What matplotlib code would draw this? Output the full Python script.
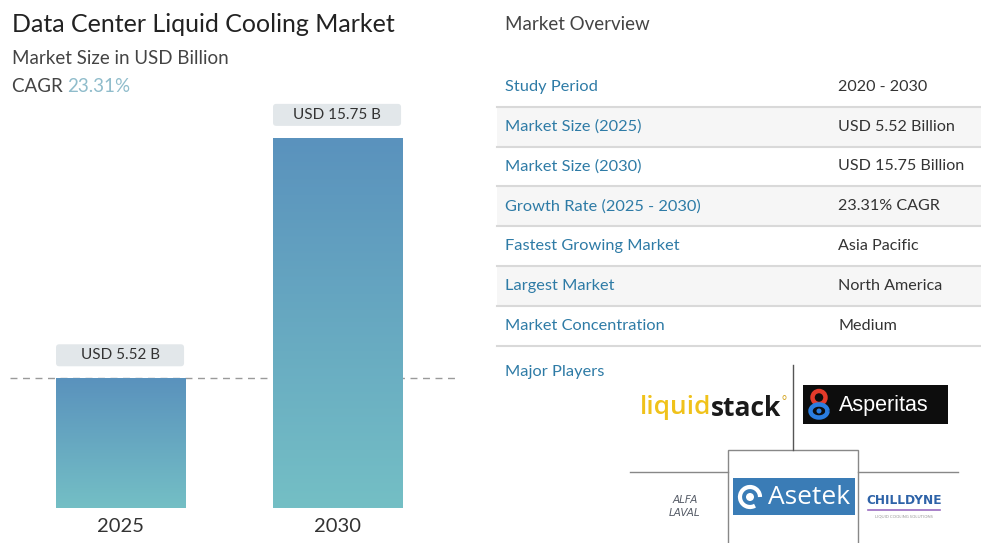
import numpy as np
import matplotlib
matplotlib.use("Agg")
import matplotlib.pyplot as plt
from matplotlib.colors import LinearSegmentedColormap
from matplotlib.patches import Rectangle, FancyBboxPatch, Arc, Circle

# ---------------- data ----------------
years = ["2025", "2030"]
values = [5.52, 15.75]
bar_labels = ["USD 5.52 B", "USD 15.75 B"]
title = "Data Center Liquid Cooling Market"
subtitle = "Market Size in USD Billion"
cagr_text = "23.31%"
row_labels = ["Study Period", "Market Size (2025)", "Market Size (2030)",
              "Growth Rate (2025 - 2030)", "Fastest Growing Market",
              "Largest Market", "Market Concentration"]
row_values = ["2020 - 2030", "USD 5.52 Billion", "USD 15.75 Billion",
              "23.31% CAGR", "Asia Pacific", "North America", "Medium"]

plt.rcParams['font.family'] = ['Lato', 'DejaVu Sans']

W, H = 981, 543
fig = plt.figure(figsize=(W / 100, H / 100), dpi=100)
fig.patch.set_facecolor("white")

# ---------------- bar chart ----------------
ax_left, ax_right = 0, 460
ax_bottom, ax_top = 508, 80
ax = fig.add_axes([ax_left / W, 1 - ax_bottom / H, (ax_right - ax_left) / W,
                   (ax_bottom - ax_top) / H])
px_per_y = 23.5
ymax = (ax_bottom - ax_top) / px_per_y
px_per_x = 217.0
xlo = -121 / px_per_x
xhi = 1 + (460 - 338) / px_per_x
bw = 130 / px_per_x

cmap = LinearSegmentedColormap.from_list("g", ["#5a92bd", "#74bfc5"])
grad = np.linspace(0, 1, 256).reshape(-1, 1)
xs = np.arange(len(values))
for x, v, lab in zip(xs, values, bar_labels):
    rect = Rectangle((x - bw / 2, 0), bw, v, facecolor="none", edgecolor="none", zorder=3)
    ax.add_patch(rect)
    im = ax.imshow(grad, cmap=cmap, aspect="auto", extent=[x - bw / 2, x + bw / 2, 0, v],
                   origin="upper", zorder=3)
    im.set_clip_path(rect)
    by0 = v + 12 / px_per_y
    bh = 22 / px_per_y
    box = FancyBboxPatch((x - bw / 2, by0), bw * 0.985, bh,
                         boxstyle="round,pad=0,rounding_size=0.015",
                         mutation_aspect=px_per_x / px_per_y,
                         facecolor="#e2e7ea", edgecolor="none", zorder=4)
    ax.add_patch(box)
    ax.text(x - bw * 0.0075, by0 + bh / 2, lab, ha="center", va="center", fontsize=11,
            color="#333333", zorder=5)

ax.axhline(values[0], xmin=10 / 460, xmax=455 / 460, color="#9a9a9a", lw=1,
           dashes=(5, 4), zorder=2)
ax.set_xlim(xlo, xhi)
ax.set_ylim(0, ymax)
ax.set_xticks(xs)
ax.set_xticklabels(years, fontsize=14.5, color="#333333")
ax.tick_params(axis="x", length=0, pad=7)
ax.set_yticks([])
for s in ax.spines.values():
    s.set_visible(False)
ax.patch.set_alpha(0)

# ---------------- overlay in pixel coords ----------------
ov = fig.add_axes([0, 0, 1, 1], zorder=-1)
ov.set_xlim(0, W)
ov.set_ylim(H, 0)
ov.axis("off")

ov.text(12, 24, title, fontsize=18, color="#222222", va="center", ha="left")
ov.text(12, 58, subtitle, fontsize=13.5, color="#444444", va="center", ha="left")
t = ov.text(12, 86, "CAGR ", fontsize=13.5, color="#444444", va="center", ha="left")
ov.annotate(cagr_text, xy=(1, 0.5), xycoords=t, va="center", ha="left",
            fontsize=13.5, color="#8fbccb")

ov.text(505, 25, "Market Overview", fontsize=13.5, color="#444444", va="center")

row_top, pitch = 67, 39.8
lab_col = "#2e7ba6"
for i, (lb, vl) in enumerate(zip(row_labels, row_values)):
    y0 = row_top + i * pitch
    if i % 2 == 1:
        ov.add_patch(Rectangle((497, y0), W - 497, pitch, facecolor="#f6f6f6",
                               edgecolor="none", zorder=0))
    yc = y0 + pitch / 2
    ov.text(505, yc, lb, fontsize=11.8, color=lab_col, va="center", ha="left")
    ov.text(838, yc, vl, fontsize=11.6, color="#333333", va="center", ha="left")
    ov.plot([497, W], [y0 + pitch, y0 + pitch], color="#d9d9d9", lw=1.5, zorder=1)

ov.text(505, 372, "Major Players", fontsize=11.8, color=lab_col, va="center")

# logo grid lines
ov.plot([793, 793], [365, 450], color="#555555", lw=1)
ov.plot([630, 728], [472, 472], color="#888888", lw=1)
ov.plot([858, 958], [472, 472], color="#888888", lw=1)
ov.add_patch(Rectangle((728, 450), 130, 100, facecolor="white", edgecolor="#888888", lw=1))

# liquidstack
t1 = ov.text(640, 408, "liquid", fontsize=19, color="#f0c21a", va="center", ha="left",
             family=["Open Sans", "DejaVu Sans"], fontweight="semibold")
t2 = ov.annotate("stack", xy=(1, 0.5), xycoords=t1, va="center", ha="left", fontsize=19,
                 color="#1a1a1a", family=["Open Sans", "DejaVu Sans"], fontweight="bold")
ov.annotate("°", xy=(1, 0.75), xycoords=t2, va="center", ha="left", fontsize=9,
            color="#d4a520")

# Asperitas
ov.add_patch(Rectangle((803, 385), 145, 39, facecolor="#0d0d0d", edgecolor="none"))
ov.add_patch(Circle((819, 397.5), 6.5, facecolor="none", edgecolor="#e23a2a", lw=3.2))
ov.add_patch(Arc((819, 411), 17, 13, theta1=0, theta2=360, color="#2a7de0", lw=3.2))
ov.add_patch(Circle((819, 411), 2.5, facecolor="#2a7de0", edgecolor="none"))
ov.text(839, 405, "Asperitas", fontsize=15.5, color="white", va="center", ha="left",
        family=["Liberation Sans", "DejaVu Sans"])

# Asetek
ov.add_patch(Rectangle((733, 478), 122, 37, facecolor="#3a7cb6", edgecolor="none"))
ov.add_patch(Arc((750, 497), 20, 20, theta1=60, theta2=360, color="white", lw=3))
ov.add_patch(Circle((750, 497), 4, facecolor="white", edgecolor="none"))
ov.text(768, 497, "Asetek", fontsize=19, color="white", va="center", ha="left",
        family=["Open Sans", "DejaVu Sans"])

# Alfa Laval (stylised)
ov.text(685, 500, "ALFA", fontsize=7.5, color="#555b66", va="center", ha="center",
        family=["DejaVu Sans"], fontstyle="italic")
ov.text(685, 513, "LAVAL", fontsize=7.5, color="#555b66", va="center", ha="center",
        family=["DejaVu Sans"], fontstyle="italic")

# Chilldyne
ov.text(904, 501, "CHILLDYNE", fontsize=8.7, color="#2e63a8", va="center", ha="center",
        fontweight="bold", family=["DejaVu Sans"])
ov.plot([868, 940], [510, 510], color="#9a6cc0", lw=1.2)
ov.text(904, 516, "LIQUID COOLING SOLUTIONS", fontsize=3, color="#999999",
        va="center", ha="center")

fig.savefig("out.png", dpi=100)
